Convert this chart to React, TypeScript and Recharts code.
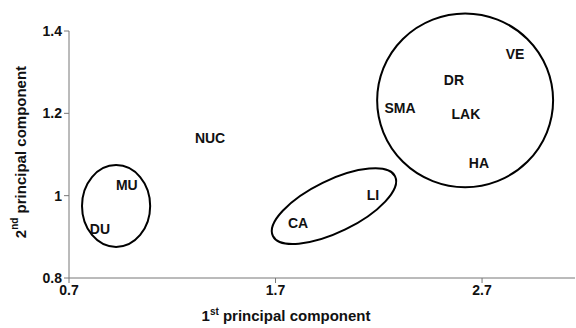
import * as React from "react";
import { ReferenceArea, Scatter, ScatterChart, XAxis, YAxis } from "recharts";

// point labels and their coordinates on the two principal components
const labels = ["DU", "MU", "NUC", "CA", "LI", "SMA", "DR", "LAK", "VE", "HA"];
const pc1 = [0.85, 0.98, 1.383, 1.809, 2.172, 2.303, 2.564, 2.622, 2.86, 2.685];
const pc2 = [0.919, 1.025, 1.139, 0.933, 1.001, 1.212, 1.282, 1.198, 1.345, 1.079];

const xTicks = [0.7, 1.7, 2.7];
const yTicks = [0.8, 1, 1.2, 1.4];

// group outlines: centre, half-widths (data units), tilt in degrees
const groupCx = [0.928, 1.983, 2.618];
const groupCy = [0.975, 0.9745, 1.2315];
const groupRx = [0.165, 0.329, 0.426];
const groupRy = [0.0994, 0.063, 0.211];
const groupTilt = [0, -26, 0];

const FONT = "'Liberation Sans', Arial, sans-serif";

const chartData = labels.map((name, i) => ({ name, x: pc1[i], y: pc2[i] }));

function LabelShape(props: any) {
  const { cx, cy, payload } = props;
  return (
    <text
      x={cx}
      y={cy}
      textAnchor="middle"
      dominantBaseline="central"
      fontFamily={FONT}
      fontWeight="bold"
      fontSize={14}
      fill="#111"
    >
      {payload.name}
    </text>
  );
}

function ellipseShape(tilt: number) {
  return (props: any) => {
    const { x, y, width, height } = props;
    const cx = x + width / 2;
    const cy = y + height / 2;
    return (
      <ellipse
        cx={cx}
        cy={cy}
        rx={Math.abs(width) / 2}
        ry={Math.abs(height) / 2}
        fill="none"
        stroke="#000"
        strokeWidth={2}
        transform={tilt ? `rotate(${tilt} ${cx} ${cy})` : undefined}
      />
    );
  };
}

export default function App() {
  const tickStyle = { fontFamily: FONT, fontWeight: "bold", fontSize: 14, fill: "#111" };

  return (
    <div style={{ position: "absolute", left: 0, top: 0, background: "#fff" }}>
      <ScatterChart width={576} height={328} margin={{ top: 31, right: 1, bottom: 0, left: 0 }}>
        <XAxis
          type="number"
          dataKey="x"
          domain={[0.7, 3.15]}
          ticks={xTicks}
          allowDataOverflow
          height={50}
          stroke="#777"
          tickSize={5}
          tick={tickStyle}
          label={{
            content: () => (
              <text x={286} y={321} textAnchor="middle" fontFamily={FONT} fontWeight="bold" fontSize={15} fill="#111">
                1<tspan fontSize={10} dy={-6}>st</tspan>
                <tspan dy={6}> principal component</tspan>
              </text>
            ),
          }}
        />
        <YAxis
          type="number"
          dataKey="y"
          domain={[0.8, 1.4]}
          ticks={yTicks}
          allowDataOverflow
          width={69}
          stroke="#777"
          tickSize={5}
          tick={tickStyle}
          label={{
            content: () => (
              <text
                x={20}
                y={152}
                transform="rotate(-90 20 152)"
                textAnchor="middle"
                dominantBaseline="central"
                fontFamily={FONT}
                fontWeight="bold"
                fontSize={15}
                fill="#111"
              >
                2<tspan fontSize={10} dy={-6}>nd</tspan>
                <tspan dy={6}> principal component</tspan>
              </text>
            ),
          }}
        />
        {groupCx.map((cx, i) => (
          <ReferenceArea
            key={i}
            x1={cx - groupRx[i]}
            x2={cx + groupRx[i]}
            y1={groupCy[i] - groupRy[i]}
            y2={groupCy[i] + groupRy[i]}
            ifOverflow="visible"
            shape={ellipseShape(groupTilt[i])}
          />
        ))}
        <Scatter data={chartData} shape={LabelShape} isAnimationActive={false} />
      </ScatterChart>
    </div>
  );
}
